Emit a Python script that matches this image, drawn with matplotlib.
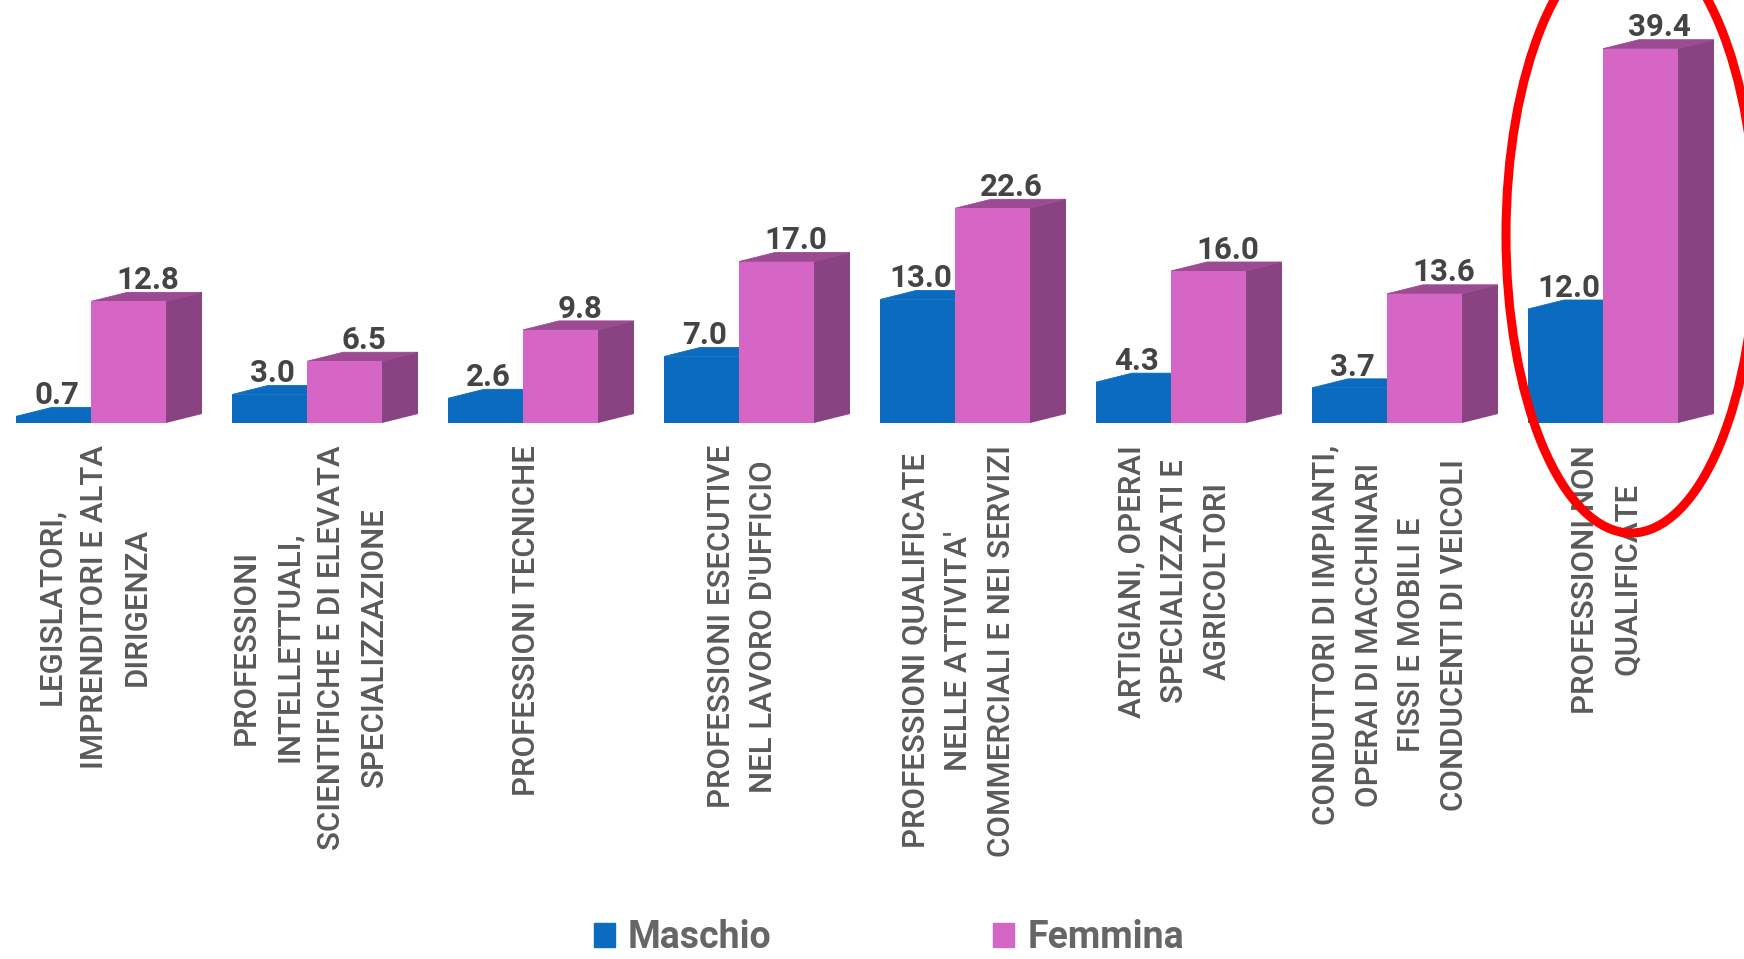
"""Occupational groups by gender, drawn as pseudo-3D bars."""

import matplotlib
matplotlib.use("Agg")
import matplotlib.pyplot as plt
import numpy as np
from matplotlib.patches import Ellipse, Patch, Polygon
from matplotlib.transforms import ScaledTranslation

categories = [
    "LEGISLATORI,\nIMPRENDITORI E ALTA\nDIRIGENZA",
    "PROFESSIONI\nINTELLETTUALI,\nSCIENTIFICHE E DI ELEVATA\nSPECIALIZZAZIONE",
    "PROFESSIONI TECNICHE",
    "PROFESSIONI ESECUTIVE\nNEL LAVORO D'UFFICIO",
    "PROFESSIONI QUALIFICATE\nNELLE ATTIVITA'\nCOMMERCIALI E NEI SERVIZI",
    "ARTIGIANI, OPERAI\nSPECIALIZZATI E\nAGRICOLTORI",
    "CONDUTTORI DI IMPIANTI,\nOPERAI DI MACCHINARI\nFISSI E MOBILI E\nCONDUCENTI DI VEICOLI",
    "PROFESSIONI NON\nQUALIFICATE",
]
maschio = [0.7, 3.0, 2.6, 7.0, 13.0, 4.3, 3.7, 12.0]
femmina = [12.8, 6.5, 9.8, 17.0, 22.6, 16.0, 13.6, 39.4]

BLUE = "#0b6cbf"
PINK = "#d566c6"
PINK_SIDE = "#8a4382"
PINK_TOP = "#9c4a92"
TEXT = "#5a5a5a"
VALUE_TEXT = "#444444"

plt.rcParams["font.family"] = ["Roboto", "DejaVu Sans"]

W, H = 1744, 959
GROUP_PX = 216.0
UNIT_PX = 9.5
BASE_X, BASE_Y = 91.0, 423.0
BAR_W = 75.0 / GROUP_PX
DEPTH_X = 36.0 / GROUP_PX
DEPTH_Y = 9.0 / UNIT_PX

fig = plt.figure(figsize=(W / 100, H / 100), dpi=100, facecolor="white")
ax = fig.add_axes([0, 0, 1, 1])
ax.set_xlim(-BASE_X / GROUP_PX, (W - BASE_X) / GROUP_PX)
ax.set_ylim(-(H - BASE_Y) / UNIT_PX, BASE_Y / UNIT_PX)

x = np.arange(len(categories))


def add_depth(left, value, top_color, side_color=None):
    right = left + BAR_W
    ax.add_patch(Polygon(
        [(left, value), (left + DEPTH_X, value + DEPTH_Y),
         (right + DEPTH_X, value + DEPTH_Y), (right, value)],
        closed=True, facecolor=top_color, edgecolor=top_color,
        linewidth=0.6, zorder=2,
    ))
    if side_color is not None:
        ax.add_patch(Polygon(
            [(right, 0), (right + DEPTH_X, DEPTH_Y),
             (right + DEPTH_X, value + DEPTH_Y), (right, value)],
            closed=True, facecolor=side_color, edgecolor="none", zorder=2,
        ))


for i in x:
    add_depth(i - BAR_W, maschio[i], BLUE)
    add_depth(i, femmina[i], PINK_TOP, PINK_SIDE)

ax.bar(x - BAR_W / 2, maschio, BAR_W, color=BLUE, zorder=3)
ax.bar(x + BAR_W / 2, femmina, BAR_W, color=PINK, zorder=3)

for i in x:
    ax.text(i - BAR_W / 2 + 0.015, maschio[i] + 1.3, f"{maschio[i]:.1f}",
            ha="center", va="baseline", fontsize=22.5, fontweight="bold",
            color=VALUE_TEXT, zorder=5)
    ax.text(i + BAR_W / 2 + DEPTH_X / 2 + 0.005, femmina[i] + 1.3, f"{femmina[i]:.1f}",
            ha="center", va="baseline", fontsize=22.5, fontweight="bold",
            color=VALUE_TEXT, zorder=5)

# category labels sit inside the full-figure axes, so ticks are pulled upward
ax.xaxis.set_ticks_position("bottom")
ax.set_xticks(x)
ax.set_xticklabels(categories, rotation=90, ha="center", va="top",
                   fontsize=22.5, fontweight="medium", color=TEXT,
                   linespacing=1.6, multialignment="center")
ax.tick_params(axis="x", length=0, pad=-(H - 445) * 72 / 100)
ax.set_yticks([])
for spine in ax.spines.values():
    spine.set_visible(False)

# nudge the labels right so the columns line up with the bars
nudge = ScaledTranslation(3.5 / 100, 0, fig.dpi_scale_trans)
for label in ax.get_xticklabels():
    label.set_transform(label.get_transform() + nudge)

# red highlight around the last group
overlay = fig.add_axes([0, 0, 1, 1], facecolor="none")
overlay.set_xlim(0, W)
overlay.set_ylim(H, 0)
overlay.axis("off")
overlay.add_patch(Ellipse((1631, 235), 250, 596, fill=False,
                          edgecolor="#fe0000", linewidth=6.5, zorder=6))

handles = [Patch(color=BLUE, label="Maschio"), Patch(color=PINK, label="Femmina")]
fig.legend(handles=handles, ncol=2, loc="lower left",
           bbox_to_anchor=(594 / W, 0.003), frameon=False, borderpad=0,
           borderaxespad=0, prop={"size": 27, "weight": "bold"},
           labelcolor="#666666", handlelength=0.55, handleheight=0.6,
           handletextpad=0.36, columnspacing=5.9)

fig.savefig("out.png", dpi=100)
